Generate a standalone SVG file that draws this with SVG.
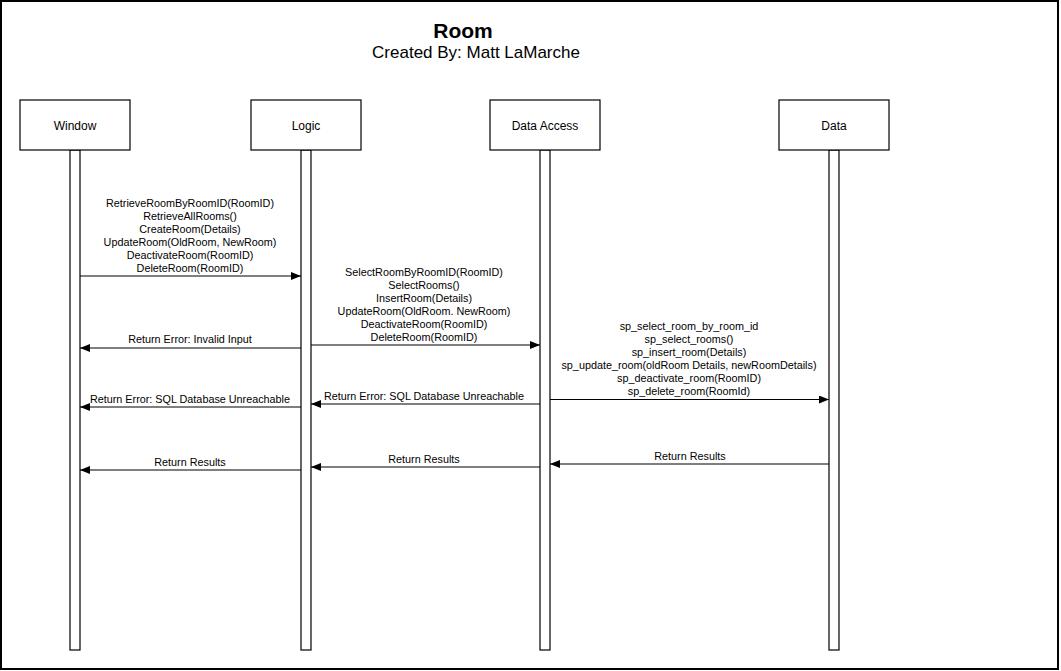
<svg xmlns="http://www.w3.org/2000/svg" width="1061" height="671" viewBox="0 0 1061 671">
<defs>
<style>
.box{fill:#fff;stroke:#000;stroke-width:1.2}
.life{fill:#fff;stroke:#000;stroke-width:1.2}
.lbl{font-family:"Liberation Sans",Arial,sans-serif;font-size:12px;fill:#000;text-anchor:middle}
.msg{font-family:"Liberation Sans",Arial,sans-serif;font-size:10.8px;fill:#000;text-anchor:middle}
.arr{stroke:#000;stroke-width:1.2;fill:none;marker-end:url(#ah)}
</style>
<marker id="ah" viewBox="0 0 10 8" refX="10" refY="4" markerWidth="10" markerHeight="8" markerUnits="userSpaceOnUse" orient="auto">
<path d="M0,0 L10,4 L0,8 Z" fill="#000"/>
</marker>
</defs>
<rect x="0" y="0" width="1061" height="671" fill="#fff"/>
<rect x="1" y="1" width="1057" height="668" fill="none" stroke="#000" stroke-width="2"/>
<text x="463" y="38" font-family="'Liberation Sans',Arial,sans-serif" font-size="21" font-weight="bold" text-anchor="middle">Room</text>
<text x="476" y="58" font-family="'Liberation Sans',Arial,sans-serif" font-size="17" text-anchor="middle">Created By: Matt LaMarche</text>

<g id="window">
<rect class="life" x="70" y="150" width="10" height="500"/>
<rect class="box" x="20" y="100" width="110" height="50"/>
<text class="lbl" x="75" y="129.5">Window</text>
</g>
<g id="logic">
<rect class="life" x="301" y="150" width="10" height="500"/>
<rect class="box" x="251" y="100" width="110" height="50"/>
<text class="lbl" x="306" y="129.5">Logic</text>
</g>
<g id="data-access">
<rect class="life" x="540" y="150" width="10" height="500"/>
<rect class="box" x="490" y="100" width="110" height="50"/>
<text class="lbl" x="545" y="129.5">Data Access</text>
</g>
<g id="data">
<rect class="life" x="829" y="150" width="10" height="500"/>
<rect class="box" x="779" y="100" width="110" height="50"/>
<text class="lbl" x="834" y="129.5">Data</text>
</g>

<g id="connectors">
<line class="arr" x1="80" y1="276" x2="301" y2="276"/>
<text class="msg" x="190" y="207">RetrieveRoomByRoomID(RoomID)</text>
<text class="msg" x="190" y="220">RetrieveAllRooms()</text>
<text class="msg" x="190" y="233">CreateRoom(Details)</text>
<text class="msg" x="190" y="246">UpdateRoom(OldRoom, NewRoom)</text>
<text class="msg" x="190" y="259">DeactivateRoom(RoomID)</text>
<text class="msg" x="190" y="272">DeleteRoom(RoomID)</text>

<line class="arr" x1="311" y1="345" x2="540" y2="345"/>
<text class="msg" x="424" y="275.5">SelectRoomByRoomID(RoomID)</text>
<text class="msg" x="424" y="288.5">SelectRooms()</text>
<text class="msg" x="424" y="301.5">InsertRoom(Details)</text>
<text class="msg" x="424" y="314.5">UpdateRoom(OldRoom. NewRoom)</text>
<text class="msg" x="424" y="327.5">DeactivateRoom(RoomID)</text>
<text class="msg" x="424" y="340.5">DeleteRoom(RoomID)</text>

<line class="arr" x1="550" y1="399.5" x2="829" y2="399.5"/>
<text class="msg" x="689" y="330">sp_select_room_by_room_id</text>
<text class="msg" x="689" y="343">sp_select_rooms()</text>
<text class="msg" x="689" y="356">sp_insert_room(Details)</text>
<text class="msg" x="689" y="369">sp_update_room(oldRoom Details, newRoomDetails)</text>
<text class="msg" x="689" y="382">sp_deactivate_room(RoomID)</text>
<text class="msg" x="689" y="395">sp_delete_room(RoomId)</text>

<line class="arr" x1="301" y1="348" x2="80" y2="348"/>
<text class="msg" x="190" y="343">Return Error: Invalid Input</text>

<line class="arr" x1="301" y1="407" x2="80" y2="407"/>
<text class="msg" x="190" y="403">Return Error: SQL Database Unreachable</text>

<line class="arr" x1="540" y1="404" x2="311" y2="404"/>
<text class="msg" x="424" y="400">Return Error: SQL Database Unreachable</text>

<line class="arr" x1="301" y1="470" x2="80" y2="470"/>
<text class="msg" x="190" y="465.5">Return Results</text>

<line class="arr" x1="540" y1="467" x2="311" y2="467"/>
<text class="msg" x="424" y="463">Return Results</text>

<line class="arr" x1="829" y1="464" x2="550" y2="464"/>
<text class="msg" x="690" y="460">Return Results</text>
</g>
</svg>
